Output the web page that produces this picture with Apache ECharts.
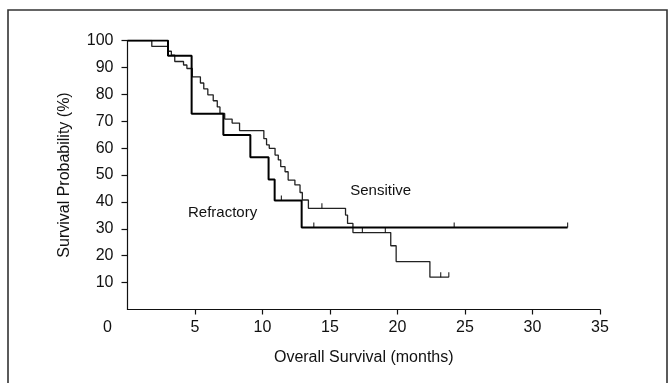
<!DOCTYPE html>
<html>
<head>
<meta charset="utf-8">
<script src="https://cdn.jsdelivr.net/npm/echarts@6/dist/echarts.min.js"></script>
<style>
html,body{margin:0;padding:0;background:#fff;}
#chart{width:671px;height:383px;}
</style>
</head>
<body>
<div id="chart"></div>
<script>
// Kaplan-Meier step data
const refractoryMonths   = [0, 3.0, 4.75, 7.1, 9.1, 10.45, 10.9, 12.9, 32.6];
const refractorySurvival = [100, 94.3, 72.8, 64.9, 56.6, 48.3, 40.5, 30.5, 30.5];

const sensitiveMonths   = [0, 1.8, 3.0, 3.25, 3.5, 4.15, 4.4, 4.8, 5.4, 5.65, 5.95, 6.35, 6.65, 6.85, 7.2, 7.75, 8.3, 10.1, 10.3, 10.5, 10.93, 11.17, 11.35, 11.67, 11.9, 12.4, 12.78, 12.95, 13.4, 16.15, 16.3, 16.7, 19.5, 19.9, 22.4, 23.8];
const sensitiveSurvival = [100, 97.8, 96.0, 94.6, 92.2, 90.9, 89.6, 86.5, 84.2, 82.0, 79.8, 77.6, 75.3, 72.9, 70.8, 69.3, 66.5, 63.5, 61.2, 59.9, 57.4, 55.6, 53.1, 51.2, 48.1, 46.3, 43.5, 40.7, 37.6, 35.1, 32.0, 28.6, 23.7, 17.8, 12.0, 12.0];

// censoring marks
const refractoryCensorMonths   = [11.4, 13.8, 24.2, 32.6];
const refractoryCensorSurvival = [40.5, 30.5, 30.5, 30.5];
const sensitiveCensorMonths    = [14.4, 17.4, 19.1, 23.2, 23.8];
const sensitiveCensorSurvival  = [37.6, 28.6, 28.6, 12.0, 12.0];

// axis ticks
const xTickValues = [5, 10, 15, 20, 25, 30, 35];
const yTickValues = [10, 20, 30, 40, 50, 60, 70, 80, 90, 100];

// annotation labels
const seriesLabels = [
  { text: 'Sensitive', month: 16.5, value: 44 },
  { text: 'Refractory', month: 4.48, value: 36 }
];

const FONT = '"Liberation Sans", Arial, Helvetica, sans-serif';
const INK = '#111';

function zip(a, b) { return a.map((v, i) => [v, b[i]]); }

const chart = echarts.init(document.getElementById('chart'), null, { renderer: 'canvas' });

const option = {
  animation: false,
  backgroundColor: '#fff',
  grid: { left: 127.5, right: 71, top: 40.5, bottom: 73.5, containLabel: false },
  xAxis: {
    type: 'value', min: 0, max: 35, interval: 5,
    name: 'Overall Survival (months)', nameLocation: 'middle', nameGap: 40,
    nameTextStyle: { fontFamily: FONT, fontSize: 16, color: INK },
    axisLine: { show: true, lineStyle: { color: INK, width: 1.2 } },
    axisTick: { show: true, length: 5, customValues: xTickValues, lineStyle: { color: INK, width: 1.2 } },
    axisLabel: { customValues: xTickValues, fontFamily: FONT, fontSize: 16, color: INK, margin: 10 },
    splitLine: { show: false }
  },
  yAxis: {
    type: 'value', min: 0, max: 100, interval: 10,
    name: 'Survival Probability (%)', nameLocation: 'middle', nameGap: 55, nameRotate: 90,
    nameTextStyle: { fontFamily: FONT, fontSize: 16, color: INK },
    axisLine: { show: true, lineStyle: { color: INK, width: 1.2 } },
    axisTick: { show: true, length: 6, customValues: yTickValues, lineStyle: { color: INK, width: 1.2 } },
    axisLabel: { customValues: yTickValues, fontFamily: FONT, fontSize: 16, color: INK, margin: 14 },
    splitLine: { show: false }
  },
  series: [
    {
      name: 'Refractory', type: 'line', step: 'end', showSymbol: false, silent: true,
      data: zip(refractoryMonths, refractorySurvival),
      lineStyle: { color: '#000', width: 2 }, z: 3
    },
    {
      name: 'Sensitive', type: 'line', step: 'end', showSymbol: false, silent: true,
      data: zip(sensitiveMonths, sensitiveSurvival),
      lineStyle: { color: '#222', width: 1.3 }, z: 2
    },
    {
      name: 'Refractory censored', type: 'scatter', silent: true,
      data: zip(refractoryCensorMonths, refractoryCensorSurvival),
      symbol: 'rect', symbolSize: [1.2, 5], symbolOffset: [0, -2.5],
      itemStyle: { color: '#000' }
    },
    {
      name: 'Sensitive censored', type: 'scatter', silent: true,
      data: zip(sensitiveCensorMonths, sensitiveCensorSurvival),
      symbol: 'rect', symbolSize: [1.2, 5], symbolOffset: [0, -2.5],
      itemStyle: { color: '#000' }
    }
  ]
};
chart.setOption(option);

// frame, origin label, and curve annotations
const origin = chart.convertToPixel({ gridIndex: 0 }, [0, 0]);
const graphics = [
  {
    type: 'rect', silent: true, z: -1,
    shape: { x: 8, y: 10, width: 659, height: 400 },
    style: { fill: 'none', stroke: '#333', lineWidth: 1.6 }
  },
  {
    type: 'text', silent: true,
    x: origin[0] - 20, y: origin[1] + 18,
    style: { text: '0', font: '16px ' + FONT, fill: INK, textAlign: 'center', textVerticalAlign: 'middle' }
  }
];
seriesLabels.forEach(function (l) {
  const p = chart.convertToPixel({ gridIndex: 0 }, [l.month, l.value]);
  graphics.push({
    type: 'text', silent: true, x: p[0], y: p[1],
    style: { text: l.text, font: '15px ' + FONT, fill: INK, textAlign: 'left', textVerticalAlign: 'middle' }
  });
});
chart.setOption({ graphic: graphics });
</script>
</body>
</html>
